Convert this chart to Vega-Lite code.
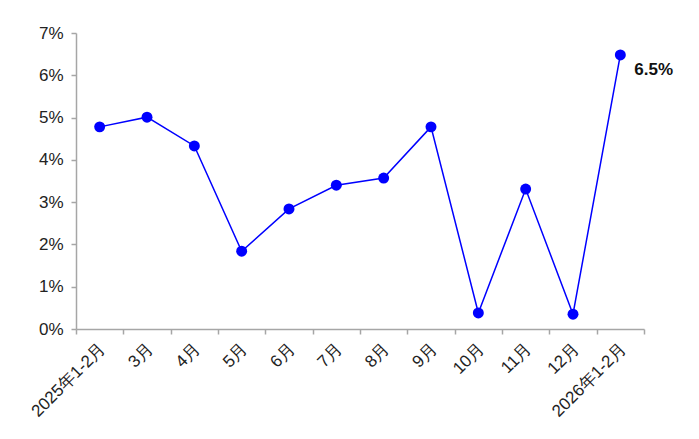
{
  "$schema": "https://vega.github.io/schema/vega-lite/v6.json",
  "width": 568,
  "height": 296,
  "autosize": {"type": "none"},
  "padding": {"left": 76, "top": 33, "right": 55, "bottom": 110},
  "background": "white",
  "config": {"view": {"stroke": null}, "font": "Liberation Sans"},
  "data": {
    "values": [
      {"month": "2025年1-2月", "value": 4.78},
      {"month": "3月", "value": 5.01},
      {"month": "4月", "value": 4.33},
      {"month": "5月", "value": 1.84},
      {"month": "6月", "value": 2.84},
      {"month": "7月", "value": 3.4},
      {"month": "8月", "value": 3.57},
      {"month": "9月", "value": 4.78},
      {"month": "10月", "value": 0.38},
      {"month": "11月", "value": 3.31},
      {"month": "12月", "value": 0.35},
      {"month": "2026年1-2月", "value": 6.48}
    ]
  },
  "encoding": {
    "x": {
      "field": "month", "type": "nominal", "sort": null,
      "scale": {"type": "band", "paddingInner": 0, "paddingOuter": 0},
      "axis": {
        "title": null, "labelAngle": -45, "labelAlign": "right", "labelBaseline": "top",
        "labelFontSize": 17, "labelColor": "#222", "labelPadding": 6,
        "domainColor": "#A6A6A6", "domainWidth": 1.5, "tickColor": "#A6A6A6", "tickSize": 5, "tickWidth": 1.5,
        "tickBand": "extent", "grid": false, "labelOffset": -3
      }
    },
    "y": {
      "field": "value", "type": "quantitative",
      "scale": {"domain": [0, 7], "nice": false},
      "axis": {
        "title": null, "values": [0, 1, 2, 3, 4, 5, 6, 7],
        "labelExpr": "datum.value + '%'",
        "labelFontSize": 17, "labelColor": "#222", "labelPadding": 8,
        "domainColor": "#A6A6A6", "domainWidth": 1.5, "tickColor": "#A6A6A6", "tickSize": 5, "tickWidth": 1.5,
        "grid": false
      }
    }
  },
  "layer": [
    {"mark": {"type": "line", "color": "#0000FF", "strokeWidth": 1.5}},
    {"mark": {"type": "point", "filled": true, "color": "#0000FF", "size": 120, "opacity": 1}},
    {
      "transform": [
        {"filter": "datum.month == '2026年1-2月'"},
        {"calculate": "format(datum.value, '.1f') + '%'", "as": "label"}
      ],
      "mark": {"type": "text", "align": "left", "baseline": "middle", "dx": 14, "dy": 15, "fontSize": 17, "fontWeight": "bold", "color": "#111"},
      "encoding": {"text": {"field": "label"}}
    }
  ]
}
